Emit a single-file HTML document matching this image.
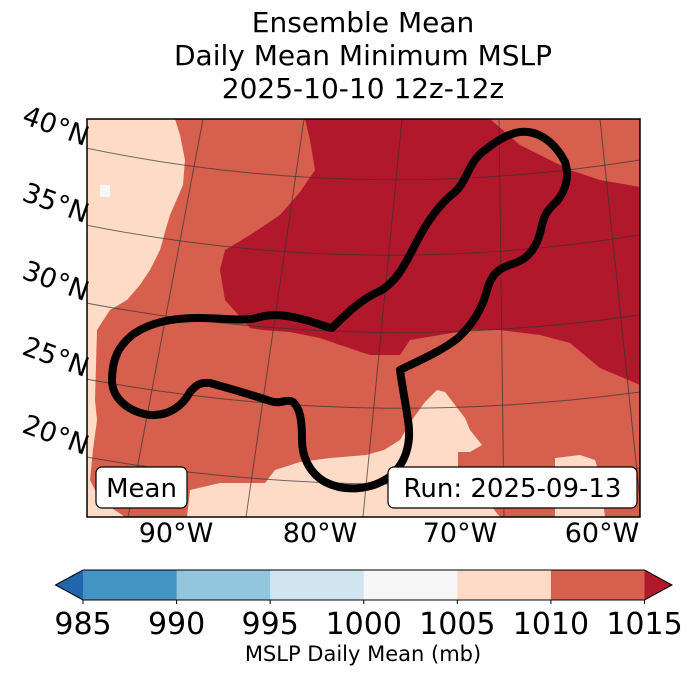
<!DOCTYPE html>
<html><head><meta charset="utf-8">
<style>
html,body{margin:0;padding:0;background:#fff;}
body{width:688px;height:674px;overflow:hidden;font-family:"Liberation Sans","DejaVu Sans",sans-serif;}
svg text{font-family:"DejaVu Sans","Liberation Sans",sans-serif;}
</style></head>
<body>
<svg id="chart" width="688" height="674" viewBox="0 0 688 674" xmlns="http://www.w3.org/2000/svg">
  <g font-size="28" text-anchor="middle" fill="#000">
    <text x="363" y="32">Ensemble Mean</text>
    <text x="363" y="65">Daily Mean Minimum MSLP</text>
    <text x="363" y="98">2025-10-10 12z-12z</text>
  </g>
  <defs><clipPath id="mapclip"><rect x="87" y="119" width="553" height="398"/></clipPath></defs>
  <g clip-path="url(#mapclip)">
    <rect x="87" y="119" width="553" height="398" fill="#d6604d"/>
    <polygon fill="#fddbc7"
      points="87,119 175,119 180,135 185,160 183,185 170,215 165,232 160,250 150,270 140,285 127,300 110,310 97,330 95,400 97,420 93,450 90,480 100,500 125,517 87,517"/>
    <rect x="100" y="185" width="10" height="12" fill="#f7f7f7"/>
    <polygon fill="#fddbc7"
      points="187,517 190,490 220,483 265,483 275,470 300,462 330,458 366,455 384,450 400,440 412,420 425,402 437,390 445,392 455,405 465,418 470,430 482,445 470,452 458,452 458,470 470,480 500,517"/>
    <polygon fill="#fddbc7"
      points="555,517 555,458 580,455 595,460 600,475 605,517"/>
    <polygon fill="#b2182b"
      points="305,119 490,119 520,145 540,155 570,170 600,180 640,187 640,385 600,368 570,343 540,335 500,330 470,330 440,335 410,340 400,355 370,355 340,345 320,338 290,332 262,330 250,328 225,300 220,270 225,250 250,235 280,215 300,192 315,170 310,140"/>
    <g fill="none" stroke="#333" stroke-opacity="0.7" stroke-width="1">
      <path d="M86,148 Q360,205 640,160"/>
      <path d="M86,225 Q360,280 640,235"/>
      <path d="M86,303 Q360,355 640,315"/>
      <path d="M86,379 Q360,430 640,392"/>
      <path d="M86,457 Q360,505 640,468"/>
      <path d="M203,119 L128,517"/>
      <path d="M304,119 L246,517"/>
      <path d="M402,119 L363,517"/>
      <path d="M499,119 L504,517"/>
      <path d="M600,119 L640,500"/>
    </g>
    <path fill="none" stroke="#000" stroke-width="8" stroke-linejoin="round"
      d="M112,380 C112,360 118,345 135,333 C155,320 180,318 200,318 C225,318 245,322 260,317 C275,313 290,316 305,320 C318,323 328,328 332,328 C345,315 360,300 378,292 C395,284 405,265 415,245 C425,225 438,205 455,192 C468,180 468,162 485,150 C500,138 515,130 528,132 C545,134 558,148 565,162 C570,178 565,190 558,200 C550,208 545,212 542,225 C538,245 530,258 515,263 C500,268 492,272 487,290 C482,310 472,325 458,338 C440,352 420,360 400,370 C402,385 405,400 408,420 C412,445 405,465 388,478 C370,490 345,492 325,482 C308,472 302,455 302,440 C302,420 300,408 293,402 C285,398 282,405 270,401 C255,396 235,390 210,383 C200,382 196,385 190,392 C183,405 170,416 150,415 C128,412 112,398 112,380 Z"/>
  </g>
  <rect x="87" y="119" width="553" height="398" fill="none" stroke="#000" stroke-width="1.5"/>
  <g>
    <rect x="96" y="467" width="91" height="41" rx="6" fill="#fff" stroke="#000" stroke-width="1.2"/>
    <text x="141.5" y="497" font-size="26" text-anchor="middle">Mean</text>
  </g>
  <g>
    <rect x="388" y="467" width="249" height="41" rx="6" fill="#fff" stroke="#000" stroke-width="1.2"/>
    <text x="512.5" y="497" font-size="26" text-anchor="middle">Run: 2025-09-13</text>
  </g>
  <g id="latlabels" font-size="27" text-anchor="end"></g>
  <g id="lonlabels" font-size="27" text-anchor="middle"></g>
  <g id="colorbar"></g>
  <text x="363" y="661" font-size="21" text-anchor="middle">MSLP Daily Mean (mb)</text>
</svg>
<script>
const levels = [985, 990, 995, 1000, 1005, 1010, 1015];
const binColors = ["#4393c3", "#92c5de", "#d1e5f0", "#f7f7f7", "#fddbc7", "#d6604d"];
const underColor = "#2166ac";
const overColor = "#b2182b";
const latLabels = ["40°N", "35°N", "30°N", "25°N", "20°N"];
const lonLabels = ["90°W", "80°W", "70°W", "60°W"];

const NS = "http://www.w3.org/2000/svg";
const cbX0 = 83, cbX1 = 644.5, cbY0 = 570, cbY1 = 600;
function cbScale(v){ return cbX0 + (v - levels[0]) / (levels[levels.length-1] - levels[0]) * (cbX1 - cbX0); }
function mk(tag, attrs, parent){ const e = document.createElementNS(NS, tag); for (const k in attrs) e.setAttribute(k, attrs[k]); parent.appendChild(e); return e; }

const cb = document.getElementById('colorbar');
for (let i = 0; i < binColors.length; i++) {
  const x0 = cbScale(levels[i]), x1 = cbScale(levels[i+1]);
  const r = mk('rect', {x: x0, y: cbY0, width: x1 - x0 + 0.5, height: cbY1 - cbY0, fill: binColors[i]}, cb);
  
  
}
const under = mk('polygon', {points: `${cbX0},${cbY0} ${cbX0},${cbY1} 55.5,${(cbY0+cbY1)/2}`, fill: underColor}, cb);


const over = mk('polygon', {points: `${cbX1},${cbY0} ${cbX1},${cbY1} 672,${(cbY0+cbY1)/2}`, fill: overColor}, cb);


const outline = mk('polygon', {points: `55.5,585 ${cbX0},${cbY0} ${cbX1},${cbY0} 672,585 ${cbX1},${cbY1} ${cbX0},${cbY1}`, fill: 'none', stroke: '#000', 'stroke-width': 1}, cb);


levels.forEach(v => {
  const x = cbScale(v);
  const t = mk('line', {x1: x, x2: x, y1: cbY1, y2: cbY1 + 4, stroke: '#000', 'stroke-width': 1}, cb);
  
  
  const l = mk('text', {x: x, y: 634, 'font-size': 30, 'text-anchor': 'middle'}, cb);
  l.textContent = v;
  
  
});

const latG = document.getElementById('latlabels');
const latY = [148, 225, 303, 379, 457];
latLabels.forEach((s, i) => {
  const t = mk('text', {x: 84, y: latY[i] - 2, transform: `rotate(20 84 ${latY[i]})`}, latG);
  t.textContent = s;
  
  
});
const lonG = document.getElementById('lonlabels');
const lonX = [176, 320, 460, 602];
lonLabels.forEach((s, i) => {
  const t = mk('text', {x: lonX[i], y: 542}, lonG);
  t.textContent = s;
  
  
});
</script>
</body></html>
